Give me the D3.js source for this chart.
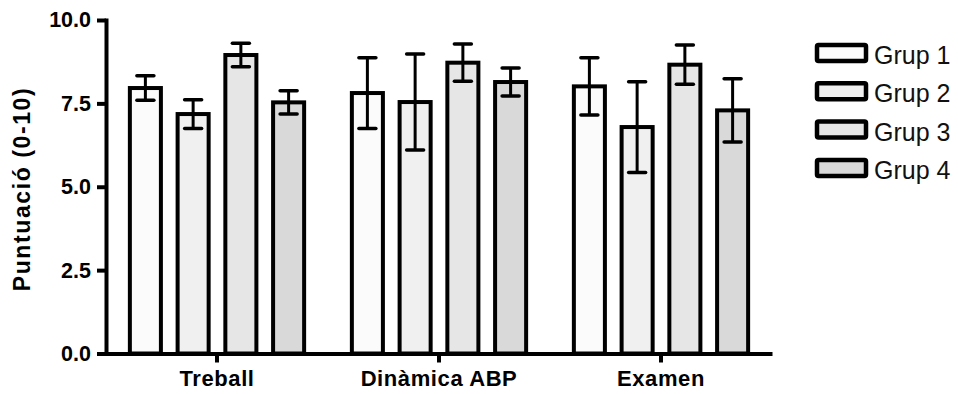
<!DOCTYPE html>
<meta charset="utf-8">
<title>Puntuació per grup</title>
<script src="https://d3js.org/d3.v7.min.js"></script>
<style>
body {
	margin: 0;
	background: #fff;
}
svg {
	display: block;
	font-family: Arial, "Liberation Sans", sans-serif;
}
</style>
<body>
<script>
const categories = ['Treball', 'Dinàmica ABP', 'Examen'];
const groups = ['Grup 1', 'Grup 2', 'Grup 3', 'Grup 4'];
// mean per group, one value for each category
const grup1 = [7.96, 7.81, 8.01];
const grup2 = [7.18, 7.54, 6.79];
const grup3 = [8.95, 8.72, 8.66];
const grup4 = [7.53, 8.14, 7.29];
// error (±) per group
const err1 = [0.37, 1.06, 0.86];
const err2 = [0.43, 1.44, 1.36];
const err3 = [0.35, 0.56, 0.59];
const err4 = [0.35, 0.42, 0.95];
const yTicks = [0, 2.5, 5, 7.5, 10];

const fills = ['#fbfbfb', '#f0f0f0', '#e6e6e6', '#d9d9d9'];
const means = [grup1, grup2, grup3, grup4];
const errs = [err1, err2, err3, err4];

const width = 958;
const height = 394;

const rows = [];
categories.forEach((cat, i) => {
	groups.forEach((g, j) => {
		rows.push({ cat, group: g, value: means[j][i], err: errs[j][i], fill: fills[j] });
	});
});

const y = d3.scaleLinear()
	.domain([0, 10])
	.range([353.5, 20]);
const x0 = d3.scaleBand()
	.domain(categories)
	.range([106, 772]);
const x1 = d3.scaleBand()
	.domain(groups)
	.range([0, x0.bandwidth()])
	.paddingInner(0.35)
	.paddingOuter(0.5);

const svg = d3.select('body')
	.append('svg')
		.attr('width', width)
		.attr('height', height);

// Bars
const bar = svg.append('g')
	.selectAll('g')
	.data(rows)
	.join('g')
		.attr('transform', d => `translate(${x0(d.cat) + x1(d.group)}, 0)`);

bar.append('rect')
	.attr('x', 0)
	.attr('y', d => y(d.value))
	.attr('width', x1.bandwidth())
	.attr('height', d => y(0) - y(d.value))
	.attr('fill', d => d.fill)
	.attr('stroke', '#000')
	.attr('stroke-width', 4);

// Error bars
const cx = x1.bandwidth() / 2;
const capW = 8.5;
bar.append('line')
	.attr('x1', cx)
	.attr('x2', cx)
	.attr('y1', d => y(d.value + d.err))
	.attr('y2', d => y(d.value - d.err))
	.attr('stroke', '#000')
	.attr('stroke-width', 3);
bar.selectAll('.cap')
	.data(d => [d.value + d.err, d.value - d.err])
	.join('line')
		.attr('class', 'cap')
		.attr('x1', cx - capW)
		.attr('x2', cx + capW)
		.attr('y1', v => y(v))
		.attr('y2', v => y(v))
		.attr('stroke', '#000')
		.attr('stroke-width', 3.5)
		.attr('stroke-linecap', 'round');

// Y axis
const yAxis = svg.append('g')
	.attr('transform', 'translate(106, 0)')
	.call(d3.axisLeft(y)
		.tickValues(yTicks)
		.tickFormat(d3.format('.1f'))
		.tickSizeInner(9)
		.tickSizeOuter(0)
		.tickPadding(6));
yAxis.select('.domain')
	.attr('stroke-width', 4)
	.attr('stroke-linecap', 'square');
yAxis.selectAll('.tick line')
	.attr('stroke-width', 4);
yAxis.selectAll('.tick text')
	.attr('font-size', 21.5)
	.attr('font-weight', 'bold')
	.attr('font-family', 'Arial, "Liberation Sans", sans-serif')
	.attr('fill', '#000');

// X axis
const xAxis = svg.append('g')
	.attr('transform', `translate(0, ${y(0)})`)
	.call(d3.axisBottom(x0)
		.tickSizeInner(9)
		.tickSizeOuter(0)
		.tickPadding(8));
xAxis.select('.domain')
	.attr('stroke-width', 4);
xAxis.selectAll('.tick line')
	.attr('stroke-width', 4);
xAxis.selectAll('.tick text')
	.attr('font-size', 22)
	.attr('font-weight', 'bold')
	.attr('letter-spacing', 0.6)
	.attr('font-family', 'Arial, "Liberation Sans", sans-serif')
	.attr('fill', '#000');

// Y axis title
svg.append('text')
	.attr('transform', `translate(30, 189) rotate(-90)`)
	.attr('text-anchor', 'middle')
	.attr('font-size', 23)
	.attr('font-weight', 'bold')
	.attr('letter-spacing', 1.6)
	.text('Puntuació (0-10)');

// Legend
const legend = svg.append('g')
	.selectAll('g')
	.data(groups)
	.join('g')
		.attr('transform', (d, i) => `translate(817, ${45 + i * 38.3})`);
legend.append('rect')
	.attr('width', 49)
	.attr('height', 16)
	.attr('rx', 1.5)
	.attr('fill', (d, i) => fills[i])
	.attr('stroke', '#000')
	.attr('stroke-width', 4.5);
legend.append('text')
	.attr('x', 57)
	.attr('y', 19)
	.attr('font-size', 25)
	.attr('fill', '#111')
	.text(d => d);
</script>
</body>
